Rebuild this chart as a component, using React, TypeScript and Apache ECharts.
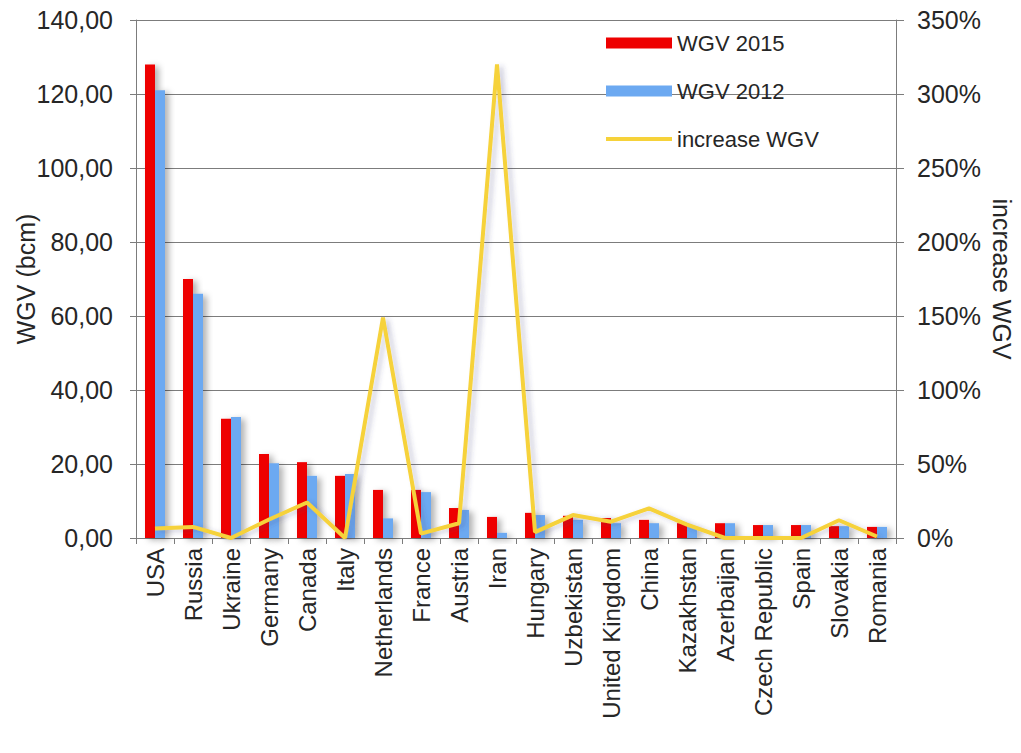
import React, { useEffect, useRef } from "react";
import * as echarts from "echarts";

// Working gas volume of underground storage by country
const countries = [
  "USA", "Russia", "Ukraine", "Germany", "Canada", "Italy", "Netherlands",
  "France", "Austria", "Iran", "Hungary", "Uzbekistan", "United Kingdom",
  "China", "Kazakhstan", "Azerbaijan", "Czech Republic", "Spain", "Slovakia", "Romania",
];
const wgv2015 = [128, 70, 32.2, 22.7, 20.5, 16.8, 13, 13, 8.1, 5.7, 6.8, 6, 5.4, 4.9, 4, 4, 3.5, 3.5, 3.2, 3];
const wgv2012 = [121, 66, 32.7, 20.2, 16.8, 17.3, 5.3, 12.4, 7.6, 1.4, 6.2, 4.9, 4, 4, 3, 4, 3.5, 3.5, 3.2, 3];
// Increase of WGV in percent
const increaseWgv = [6.5, 7.5, 0, 12.5, 24, 0, 149, 3, 10, 320, 4, 15.5, 11, 20, 9, 0, 0, 0, 12, 1];

const leftTicks = { min: 0, max: 140, interval: 20 };
const rightTicks = { min: 0, max: 350, interval: 50 };

const FONT = "'Liberation Sans', Arial, sans-serif";
const TEXT = "#262626";
const GRID = "#7c7c7c";
const RED = "#EE0000";
const BLUE = "#6CA9F1";
const YELLOW = "#F6D23A";

// thin horizontal stroke inside an 66x11 box, used as the line's legend key
const LINE_KEY = "path://M0,0L0.01,0Z M0,3.5L66,3.5L66,7.5L0,7.5Z M0,11L0.01,11Z";

export default function App() {
  const ref = useRef<HTMLDivElement>(null);

  useEffect(() => {
    if (!ref.current) return;
    const chart = echarts.init(ref.current, null, { renderer: "svg" });
    const barShadow = {
      shadowColor: "rgba(0,0,0,0.3)",
      shadowBlur: 6,
      shadowOffsetX: 4,
      shadowOffsetY: 2,
    };
    chart.setOption({
      animation: false,
      textStyle: { fontFamily: FONT },
      grid: { left: 136, right: 125, top: 20, bottom: 215, outerBoundsMode: "none" },
      legend: {
        orient: "vertical",
        left: 601,
        top: 27,
        itemWidth: 66,
        itemHeight: 11,
        itemGap: 26,
        textStyle: { fontSize: 22, color: TEXT, fontFamily: FONT, padding: [0, 0, 0, 0] },
        data: [
          { name: "WGV 2015", icon: "rect" },
          { name: "WGV 2012", icon: "rect" },
          { name: "increase WGV", icon: LINE_KEY, itemStyle: { color: YELLOW } },
        ],
      },
      xAxis: {
        type: "category",
        data: countries,
        axisLine: { lineStyle: { color: GRID } },
        axisTick: { show: true, length: 6, lineStyle: { color: GRID } },
        axisLabel: {
          interval: 0,
          rotate: 90,
          fontSize: 24,
          color: TEXT,
          margin: 10,
          fontFamily: FONT,
        },
      },
      yAxis: [
        {
          type: "value",
          ...leftTicks,
          name: "WGV (bcm)",
          nameLocation: "middle",
          nameGap: 98,
          nameMoveOverlap: false,
          nameTextStyle: { fontSize: 25, color: TEXT, fontFamily: FONT },
          axisLine: { show: true, lineStyle: { color: GRID } },
          axisTick: { show: true, length: 6, lineStyle: { color: GRID } },
          axisLabel: {
            fontSize: 25,
            color: TEXT,
            margin: 23,
            fontFamily: FONT,
            formatter: (v: number) => v.toFixed(2).replace(".", ","),
          },
          splitLine: { show: true, lineStyle: { color: GRID, width: 1 } },
        },
        {
          type: "value",
          ...rightTicks,
          name: "increase WGV",
          nameLocation: "middle",
          nameGap: 93,
          nameMoveOverlap: false,
          nameRotate: -90,
          nameTextStyle: { fontSize: 25, color: TEXT, fontFamily: FONT },
          axisLine: { show: true, lineStyle: { color: GRID } },
          axisTick: { show: true, length: 8, lineStyle: { color: GRID } },
          axisLabel: {
            fontSize: 25,
            color: TEXT,
            margin: 21,
            fontFamily: FONT,
            formatter: (v: number) => `${v}%`,
          },
          splitLine: { show: false },
        },
      ],
      series: [
        {
          name: "WGV 2015",
          type: "bar",
          data: wgv2015,
          barWidth: 10,
          barGap: "0%",
          itemStyle: { color: RED, ...barShadow },
        },
        {
          name: "WGV 2012",
          type: "bar",
          data: wgv2012,
          barWidth: 10,
          itemStyle: { color: BLUE, ...barShadow },
        },
        {
          name: "increase WGV",
          type: "line",
          yAxisIndex: 1,
          data: increaseWgv,
          symbol: "none",
          itemStyle: { color: YELLOW },
          lineStyle: {
            color: YELLOW,
            width: 4,
            shadowColor: "rgba(60,60,120,0.25)",
            shadowBlur: 5,
            shadowOffsetX: 4,
            shadowOffsetY: 2,
          },
        },
      ],
    });
    return () => chart.dispose();
  }, []);

  return <div ref={ref} style={{ width: 1021, height: 753, position: "absolute", left: 0, top: 0 }} />;
}
